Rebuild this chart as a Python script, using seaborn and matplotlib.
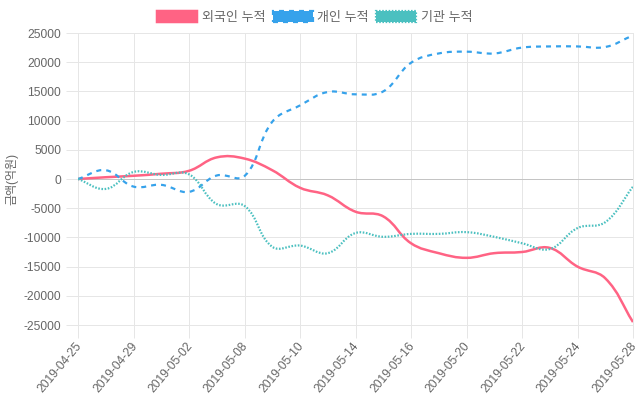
import numpy as np
import matplotlib
matplotlib.use("Agg")
import matplotlib.pyplot as plt
import matplotlib.transforms as mtransforms
from matplotlib.path import Path
from matplotlib.patches import PathPatch, Patch
import seaborn as sns

# 데이터 (그림에서 읽은 값, 단위: 억원)
dates = ['2019-04-25', '2019-04-26', '2019-04-29', '2019-04-30', '2019-05-02',
         '2019-05-03', '2019-05-08', '2019-05-09', '2019-05-10', '2019-05-13',
         '2019-05-14', '2019-05-15', '2019-05-16', '2019-05-17', '2019-05-20',
         '2019-05-21', '2019-05-22', '2019-05-23', '2019-05-24', '2019-05-27',
         '2019-05-28']
foreign = [0, 300, 550, 900, 1400, 3700, 3500, 1500, -1500, -2800, -5600,
           -6400, -11000, -12700, -13500, -12700, -12500, -11800, -15000, -17000, -24500]
individual = [0, 1500, -1300, -1000, -2200, 600, 500, 9800, 12600, 14900, 14500,
              15000, 19900, 21500, 21800, 21500, 22500, 22700, 22700, 22600, 24600]
institution = [0, -1700, 1200, 700, 800, -4300, -4600, -11600, -11400, -12700, -9250,
               -9900, -9400, -9400, -9100, -9900, -11000, -12000, -8400, -7400, -1300]
labels = ['외국인 누적', '개인 누적', '기관 누적']

sns.set_theme(style="white")
plt.rcParams['font.family'] = ['Liberation Sans', 'Noto Sans CJK KR', 'DejaVu Sans']
plt.rcParams['axes.unicode_minus'] = False
plt.rcParams['lines.scale_dashes'] = False

PX = 0.72            # 1 px em pontos (dpi 100)
FS = 12 * PX         # fonte de 12 px
GRID = '#e6e6e6'

fig = plt.figure(figsize=(6.4, 4.0), dpi=100)
ax = fig.add_axes([78 / 640, 75 / 400, 555 / 640, 292 / 400])
x = np.arange(len(dates))
ax.set_xlim(0, len(dates) - 1)
ax.set_ylim(-25000, 25000)

ax.set_xticks(x[::2])
ax.set_xticklabels(dates[::2], rotation=50, ha='right', rotation_mode='anchor')
ax.set_yticks(np.arange(-25000, 25001, 5000))
ax.tick_params(axis='both', colors=GRID, labelcolor='#666666', labelsize=FS,
               length=9, width=1 * PX, pad=3, direction='out')
ax.tick_params(axis='y', left=True)
ax.tick_params(axis='x', bottom=True, pad=2)
shift = mtransforms.ScaledTranslation(-3 / 100, 0, fig.dpi_scale_trans)
for lab in ax.get_xticklabels():
    lab.set_transform(lab.get_transform() + shift)
ax.grid(True, color=GRID, linewidth=1 * PX)
for s in ax.spines.values():
    s.set_color(GRID)
    s.set_linewidth(1 * PX)
ax.axhline(0, color='#c4c4c4', linewidth=1 * PX, zorder=1)


def spline_path(xs, ys, tension=0.4):
    # curvas de Bézier no estilo Chart.js (tension 0.4), calculadas em pixels
    pts = ax.transData.transform(np.column_stack([xs, ys]))
    bb = ax.bbox
    n = len(pts)
    cp_in = np.zeros_like(pts)
    cp_out = np.zeros_like(pts)
    for i in range(n):
        prev = pts[i - 1] if i > 0 else pts[i]
        nxt = pts[i + 1] if i < n - 1 else pts[i]
        d01 = np.hypot(*(pts[i] - prev))
        d12 = np.hypot(*(nxt - pts[i]))
        tot = d01 + d12
        s01 = d01 / tot if tot else 0
        s12 = d12 / tot if tot else 0
        cp_in[i] = pts[i] - tension * s01 * (nxt - prev)
        cp_out[i] = pts[i] + tension * s12 * (nxt - prev)
    for arr in (cp_in, cp_out):
        arr[:, 0] = np.clip(arr[:, 0], bb.x0, bb.x1)
        arr[:, 1] = np.clip(arr[:, 1], bb.y0, bb.y1)
    verts = [pts[0]]
    codes = [Path.MOVETO]
    for i in range(n - 1):
        verts += [cp_out[i], cp_in[i + 1], pts[i + 1]]
        codes += [Path.CURVE4] * 3
    verts = ax.transData.inverted().transform(np.array(verts))
    return Path(verts, codes)


series = [foreign, individual, institution]
colors = ['#ff6384', '#36a2eb', '#4bc0c0']
styles = ['solid', (0, (5 * PX, 5 * PX)), (0, (1.6 * PX, 1.6 * PX))]
widths = [2.5 * PX, 2.2 * PX, 2.2 * PX]

handles = []
for vals, c, ls, lw in zip(series, colors, styles, widths):
    ax.add_patch(PathPatch(spline_path(x, vals), fill=False, edgecolor=c,
                           linestyle=ls, linewidth=lw, zorder=3, capstyle='butt'))
    handles.append(Patch(facecolor=c, edgecolor=c, linestyle=ls, linewidth=lw))

LFS = 13 * PX
fig.legend(handles, labels, loc='center', bbox_to_anchor=(0.492, 0.956), ncol=3,
           frameon=False, fontsize=LFS, handlelength=40 / 13, handleheight=11 / 13,
           handletextpad=0.35, columnspacing=0.55, labelcolor='#666666')

fig.text(12 / 640, 1 - 179 / 400, '금액(억원)', rotation=90, ha='center', va='center',
         fontsize=FS, color='#666666')

fig.savefig('out.png', dpi=100)
